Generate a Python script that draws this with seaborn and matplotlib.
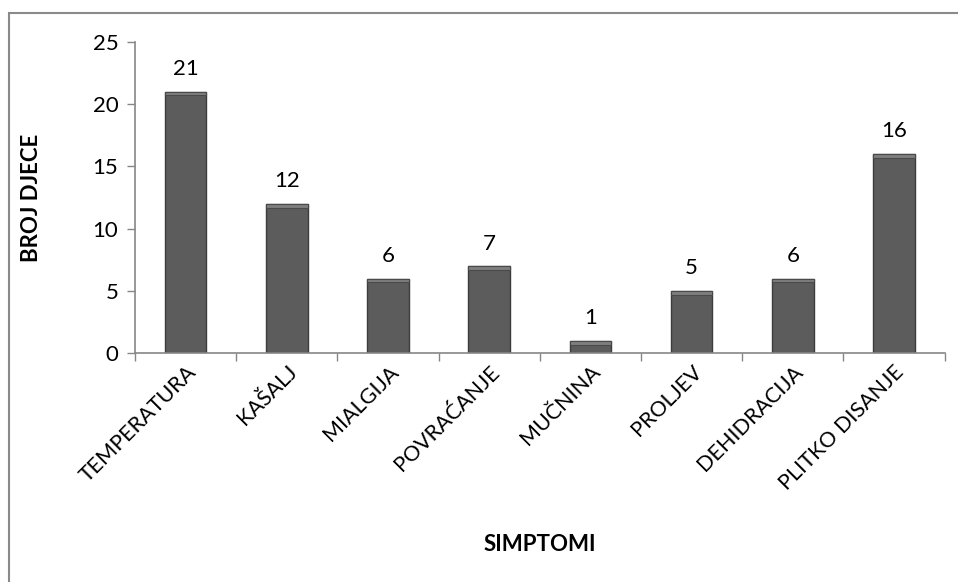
import numpy as np
import pandas as pd
import matplotlib
matplotlib.use('Agg')
import matplotlib.pyplot as plt
import seaborn as sns
from matplotlib.patches import Rectangle

# Chart data
simptomi = ['TEMPERATURA', 'KAŠALJ', 'MIALGIJA', 'POVRAĆANJE',
            'MUČNINA', 'PROLJEV', 'DEHIDRACIJA', 'PLITKO DISANJE']
broj_djece = [21, 12, 6, 7, 1, 5, 6, 16]
y_ticks = [0, 5, 10, 15, 20, 25]

sns.set_theme(style="white")
plt.rcParams['font.family'] = ['Lato', 'DejaVu Sans']

df = pd.DataFrame({'simptom': simptomi, 'broj': broj_djece})

fig = plt.figure(figsize=(9.58, 5.82), dpi=100)
ax = fig.add_axes([0.141, 0.393, 0.845, 0.535])

sns.barplot(data=df, x='simptom', y='broj', color='#5c5c5c', saturation=1,
            width=0.41, edgecolor='#3c3c3c', linewidth=1.0, ax=ax)

# subtle bevel at the top of each bar
for p in list(ax.patches):
    x0, w, h = p.get_x(), p.get_width(), p.get_height()
    ax.add_patch(Rectangle((x0, h - 0.3), w, 0.3, facecolor='#7e7e7e',
                           edgecolor='#4a4a4a', linewidth=0.8,
                           zorder=p.get_zorder() + 0.1))

for c in ax.containers:
    ax.bar_label(c, padding=9, fontsize=16, color='black')

ax.set_xlim(-0.5, len(simptomi) - 0.5)
ax.set_ylim(0, 25)
ax.set_yticks(y_ticks)
ax.set_xticks(np.arange(-0.5, len(simptomi), 1), minor=True)
ax.tick_params(axis='x', which='major', length=0, pad=6)
ax.tick_params(axis='x', which='minor', length=6, width=1, color='#868686',
               direction='out', bottom=True)
ax.tick_params(axis='y', length=6, width=1, color='#868686', direction='out',
               left=True, pad=6)
ax.set_xticklabels(simptomi, rotation=45, ha='right', rotation_mode='anchor',
                   fontsize=15.5, color='black')
for lbl in ax.get_yticklabels():
    lbl.set_fontsize(16)
    lbl.set_color('black')

ax.set_xlabel('SIMPTOMI', fontsize=16, fontweight='bold', color='black',
              labelpad=0)
ax.xaxis.set_label_coords(0.5, -0.58)
ax.set_ylabel('BROJ DJECE', fontsize=16, fontweight='bold', color='black')
ax.yaxis.set_label_coords(-0.115, 0.5)

sns.despine(ax=ax)
for s in ['left', 'bottom']:
    ax.spines[s].set_color('#868686')
    ax.spines[s].set_linewidth(1.2)

# outer chart frame
fig.patches.append(Rectangle((9 / 958, -0.05), 1.2, 1 - 13 / 582 + 0.05,
                             transform=fig.transFigure, fill=False,
                             edgecolor='#8a8a8a', linewidth=1.5))

fig.savefig('out.png', dpi=100)
